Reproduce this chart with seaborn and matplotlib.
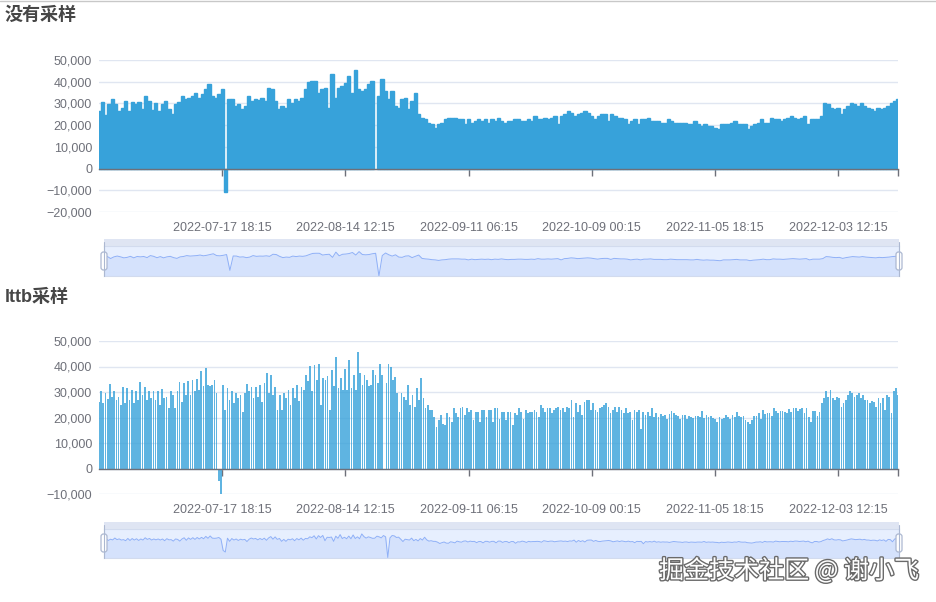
import numpy as np
import pandas as pd
import matplotlib
matplotlib.use("Agg")
import matplotlib.pyplot as plt
import matplotlib.dates as mdates
import matplotlib.patheffects as pe
from matplotlib.patches import Rectangle, FancyBboxPatch
from matplotlib.lines import Line2D
import seaborn as sns


# ==================================
# DATA
# ==================================

start_time = "2022-06-20 00:15"
end_time = "2022-12-17 00:00"

tick_labels = [
    "2022-07-17 18:15", "2022-08-14 12:15", "2022-09-11 06:15",
    "2022-10-09 00:15", "2022-11-05 18:15", "2022-12-03 12:15",
]

titles = ["没有采样", "lttb采样"]
watermark = "掘金技术社区 @ 谢小飞"

nan = np.nan

# full series (no sampling)
raw_values = [
    26600, 30700, 24600, 29600, 32000, 29600, 26600, 28100, 31100, 26600,
    30700, 29600, 30700, 27300, 33400, 31100, 27000, 30400, 26600, 29600,
    31100, 27300, 25000, 29600, 30700, 33400, 31900, 32700, 33400, 35000,
    32700, 34200, 36500, 38800, 33400, 32700, 34200, 36500, -10800, 32200,
    31900, 28900, 29600, 27300, 28900, 33400, 31100, 31900, 31600, 32700,
    31100, 37300, 36500, 31100, 27300, 28900, 28100, 31900, 30400, 31900,
    31100, 32700, 36500, 39800, 40300, 40300, 35000, 36500, 37300, 28100,
    43700, 32700, 37300, 38000, 39500, 42600, 35000, 45200, 36500, 35700,
    36500,
    38800, 40300, nan, 33400, 41100, 35700, 31900, 35700, 28900, 28100,
    31900, 32700, 27300, 31100, 35000, 25000, 23500, 22700, 21200, 20500,
    18900, 20500, 21200, 22700, 23500, 23500, 23500, 22700, 22700, 20500,
    22700, 21200, 22000, 22700, 22000, 22700, 21200, 22700, 22000, 23500,
    22000, 21200, 22000, 22000, 22700, 22700, 22000, 22000, 22700, 22000,
    24300, 22700, 22700, 23500, 22700, 23500, 24300, 20500, 24300, 25000,
    26600, 25800, 24300, 25000, 25800, 26600, 25800, 24300, 22700, 24300,
    25000, 25000, 22000, 25000, 24300, 23500, 23500, 22700, 20500, 22000,
    22700,
    20500, 22700, 22700, 23500, 22000, 22000, 22000, 21200, 21200, 22700,
    22000, 21200, 21200, 21200, 21200, 20500, 20500, 22000, 20500, 19700,
    20500, 19700, 19700, 18900, 18000, 20500, 20500, 20500, 21200, 22000,
    20500, 20500, 20500, 18200, 19700, 20500, 21200, 22700, 21200, 21200,
    23500, 22700, 22700, 22000, 22700, 23500, 24300, 23500, 22700, 23500,
    24300, 20500, 22700, 22700, 22700, 24300, 30400, 29600, 28100, 27300,
    28100, 25000, 27300, 28900, 30400, 29600, 28900, 30400, 28900, 28100,
    27300, 26600, 28100, 27300, 28100, 28900, 30400, 31100, 31900,
]

# lttb sampled series
lttb_values = [
    26000, 30500, 25600, 29500, 27300, 33100, 28200, 30500, 26900, 28200,
    24900, 31800, 25600, 31500, 26900, 30900, 25600, 30200, 26900, 33900,
    28900, 31800, 26900, 30200, 27500, 30200, 26900, 30200, 24900, 31100,
    27500, 28200, 23600, 30200, 28900, 23600, 30200, 33900, 26200, 33500,
    28900, 34200, 28900, 34800, 30200, 35200, 30900, 38100, 32200, 39500,
    32800, 32200, 32800, 34800, 29500, -5000, -10000, 32600, 22900, 31500,
    26900, 30200, 25600, 29500, 27500, 28900, 22300, 29500, 33100, 30200,
    31800, 27500, 31800, 28200, 32600, 26200, 33500, 37500, 29500, 36600,
    28900, 31800, 22900, 28900, 22900, 29500, 27500, 30900, 24900, 31500,
    27500, 32800, 26500, 31800, 30900, 36800, 34200, 40100, 30200, 40400,
    34800, 41100, 24900, 35500, 34800, 36200, 22900, 38800, 32200, 43700,
    31500, 35500, 30900, 39100, 30900, 42500, 31500, 36800, 30900, 45700,
    37500, 32800, 36800, 34800,
    32200, 32600, 38800, 36800, 33500, 40800, 36800, nan, 33500, 40800,
    39700, 34800, 35800, 29500, 22300, 29500, 28200, 26900, 32800, 24900,
    28900, 24200, 31500, 26900, 35500, 27500, 23600, 24900, 22900, 22900,
    20300, 16300, 18900, 20900, 17600, 17000, 21600, 20300, 18300, 23600,
    21600, 20300, 23600, 24200, 20900, 23600, 22300, 22900, 18900, 22300,
    22300, 18300, 22900, 22900, 20300, 22900, 22900, 18300, 23600, 23600,
    19600, 22300, 22300, 18900, 22300, 22300, 17000, 21600, 20900, 23600,
    22300, 19600, 22900, 21600, 22300, 22300, 22900, 22300, 20300, 24900,
    23600, 22300, 23600, 23600, 21600, 22900, 23600, 24200, 22900, 23600,
    22300, 24200, 23600, 26900, 20300, 25600, 22300, 24900, 20900, 26200,
    26900, 26900, 22900, 25600, 22900, 22300, 23600, 24200, 24900, 25600,
    24200, 21600, 22900, 24200, 22300, 24200, 22900, 21600, 23600, 21600,
    22300, 18900, 22900, 22300,
    22900, 15600, 22300, 20900, 22300, 20700, 23600, 20300, 21600, 20300,
    21200, 20700, 20900, 19600, 21200, 22500, 21600, 20900, 20700, 19600,
    20900, 20900, 19600, 20700, 20300, 19900, 20700, 20700, 20300, 22500,
    19900, 20900, 20300, 20700, 19900, 19600, 18300, 20300, 19600, 19900,
    20900, 20300, 19600, 20900, 20300, 22300, 20700, 20300, 20700, 18900,
    18300, 17600, 18900, 20700, 20700, 21600, 19600, 22900, 21200, 21600,
    21600, 20700, 23600, 22500, 21600, 22500, 22500, 22300, 21600, 23300,
    22300, 23800, 23600, 22500, 23300, 23800, 21600, 23600, 20300, 18300,
    22500, 22500, 20700, 22300, 25600, 27500, 30500, 28200, 30900, 27500,
    26900, 28200, 27500, 24200, 25600, 26900, 28900, 30500, 29500, 28200,
    28900, 29500, 27500, 28900, 26900, 26900, 25600, 26500, 26200, 24200,
    27500, 25600, 27500, 22900, 28900, 28200, 21600, 30200, 31500, 28900,
]


# ==================================
# STYLE
# ==================================

sns.set_theme(style="white")
plt.rcParams["font.family"] = ["Liberation Sans", "Noto Sans CJK SC", "DejaVu Sans"]

BAR = "#37a2da"
TXT = "#6e7079"
GRID = "#e0e6f1"
W, H = 936, 602

fig = plt.figure(figsize=(W / 100, H / 100), dpi=100)


def fx(px):
    return px / W


def fy(py):
    return 1 - py / H


t0 = mdates.date2num(pd.Timestamp(start_time))
t1 = mdates.date2num(pd.Timestamp(end_time))
label_pos = mdates.date2num(pd.to_datetime(tick_labels))


# ==================================
# PANELS
# ==================================

def draw_panel(values, top_px, bot_px, ymin, width, alpha, lw):
    ax = fig.add_axes([fx(99), fy(bot_px), fx(898) - fx(99), (bot_px - top_px) / H])
    xs = mdates.date2num(pd.date_range(start_time, end_time, periods=len(values)))
    df = pd.DataFrame({"t": xs, "v": values})

    sns.barplot(
        data=df, x="t", y="v",
        native_scale=True,
        width=width,
        color=BAR,
        saturation=1,
        alpha=alpha,
        errorbar=None,
        edgecolor=BAR,
        linewidth=lw,
        ax=ax,
    )

    ax.set_xlim(t0, t1)
    ax.set_ylim(ymin, 50000)
    ax.set_yticks(np.arange(ymin, 50001, 10000))
    ax.yaxis.set_major_formatter(matplotlib.ticker.StrMethodFormatter("{x:,.0f}"))
    ax.yaxis.grid(True, color=GRID, lw=1)
    ax.xaxis.grid(False)
    ax.set_axisbelow(True)
    ax.set_xlabel("")
    ax.set_ylabel("")

    for s in ["left", "right", "top"]:
        ax.spines[s].set_visible(False)
    ax.spines["bottom"].set_position(("data", 0))
    ax.spines["bottom"].set_color(TXT)
    ax.spines["bottom"].set_linewidth(1)
    ax.spines["bottom"].set_zorder(5)

    ax.set_xticks(list(label_pos) + [t1])
    ax.tick_params(axis="x", bottom=True, length=5, width=1, color=TXT,
                   direction="out", labelbottom=False)
    ax.tick_params(axis="y", left=False, length=0, pad=5, labelsize=9,
                   labelcolor=TXT)

    sec = ax.secondary_xaxis("bottom")
    sec.set_xticks(label_pos, labels=tick_labels)
    sec.tick_params(length=0, pad=7, labelsize=9, labelcolor=TXT)
    sec.spines["bottom"].set_visible(False)
    return xs


def draw_slider(values, xs, top_px, bot_px):
    # move handle strip on top of the slider
    fig.add_artist(Rectangle((fx(104), fy(top_px + 7)), fx(899) - fx(104), 7 / H,
                             transform=fig.transFigure, facecolor="#d2dbee",
                             alpha=0.7, lw=0))

    area_top = top_px + 7
    sl = fig.add_axes([fx(104), fy(bot_px), fx(899) - fx(104), (bot_px - area_top) / H])
    sl.set_facecolor("#e7effe")

    v = np.array(values, dtype=float)
    vmin, vmax = np.nanmin(v), np.nanmax(v)
    off = (vmax - vmin) * 0.3
    lo, hi = vmin - off, vmax + off
    shadow = np.where(np.isnan(v), lo, v)

    sl.fill_between(xs, lo, shadow, color="#8fb0f7", alpha=0.2, lw=0)
    sns.lineplot(x=xs, y=shadow, color="#8fb0f7", lw=0.7, ax=sl)
    sl.set_xlim(t0, t1)
    sl.set_ylim(lo, hi)
    sl.set_xticks([])
    sl.set_yticks([])
    sl.set_xlabel("")
    sl.set_ylabel("")
    for s in sl.spines.values():
        s.set_color("#d2dbee")
        s.set_linewidth(0.8)

    # handles
    mid = (area_top + bot_px) / 2
    for hx in (104, 899):
        fig.add_artist(Line2D([hx / 100, hx / 100],
                              [(H - top_px - 3) / 100, (H - bot_px) / 100],
                              transform=fig.dpi_scale_trans,
                              color="#acb8d1", lw=0.8))
        fig.add_artist(FancyBboxPatch(((hx - 3) / 100, (H - mid - 9) / 100),
                                      6 / 100, 18 / 100,
                                      boxstyle="round,pad=0,rounding_size=0.025",
                                      transform=fig.dpi_scale_trans,
                                      facecolor="white", edgecolor="#acb8d1",
                                      lw=0.9))


# top: no sampling
xs_raw = draw_panel(raw_values, 60, 212, -20000, 1.0, 1.0, 1.0)
draw_slider(raw_values, xs_raw, 239, 276)

# bottom: lttb sampling
xs_lttb = draw_panel(lttb_values, 341, 494, -10000, 0.8, 0.8, 0)
draw_slider(lttb_values, xs_lttb, 521.5, 557.5)


# ==================================
# TEXTS
# ==================================

fig.text(fx(5), fy(15), titles[0], fontsize=13, weight="bold",
         color="#464646", va="center", ha="left")
fig.text(fx(5), fy(297), titles[1], fontsize=13, weight="bold",
         color="#464646", va="center", ha="left")

fig.text(fx(919), fy(571), watermark, fontsize=18, color="white",
         ha="right", va="center",
         family=["Noto Sans CJK SC", "DejaVu Sans"],
         path_effects=[pe.withStroke(linewidth=2, foreground="#6a6a6a")])

fig.add_artist(Line2D([0, 1], [1 - 0.8 / H, 1 - 0.8 / H],
                      transform=fig.transFigure, color="#c8c8c8", lw=1))

fig.savefig("out.png", dpi=100)
